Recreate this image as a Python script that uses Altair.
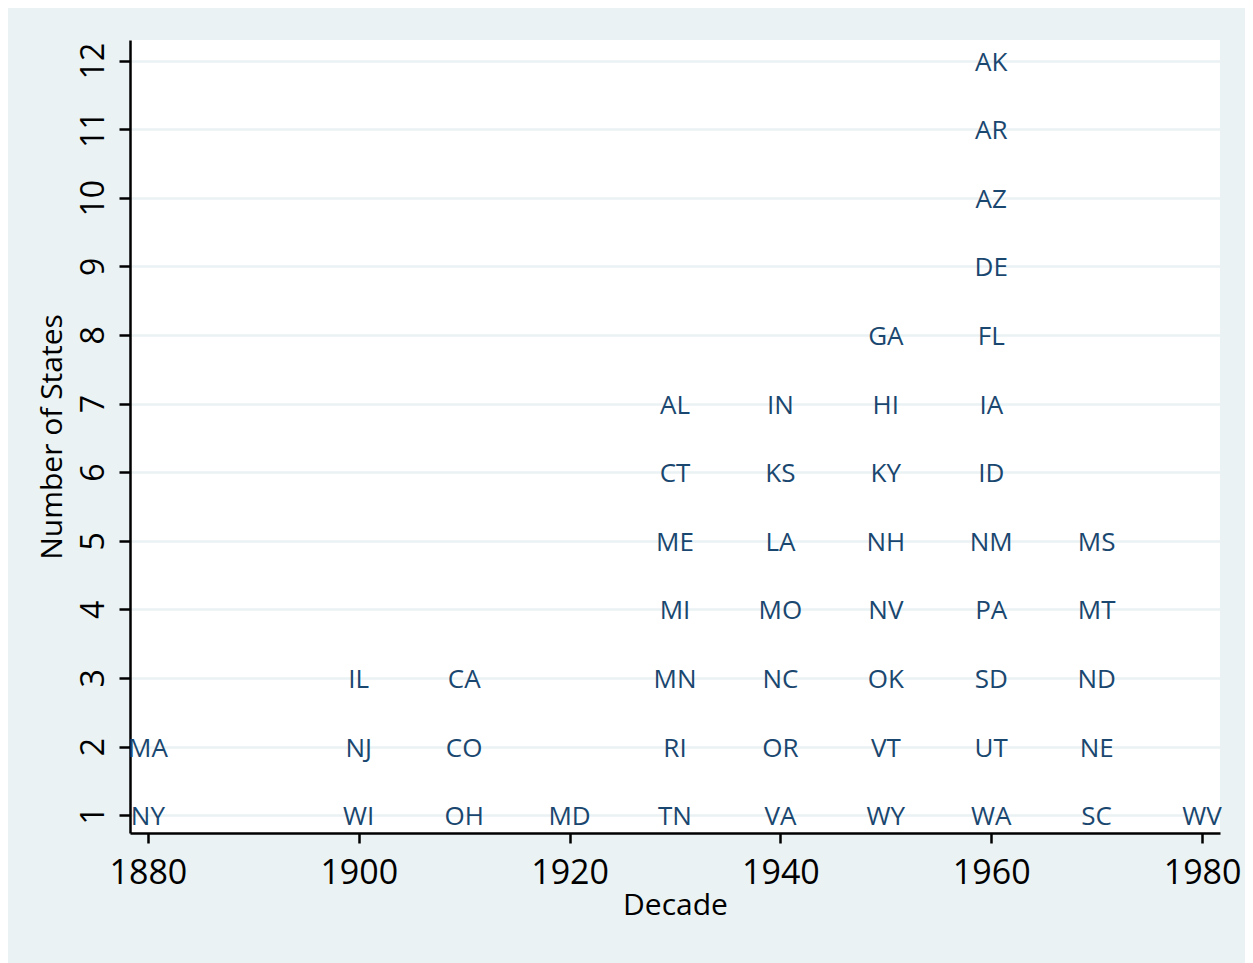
import altair as alt
import pandas as pd

decades = [1880, 1900, 1910, 1920, 1930, 1940, 1950, 1960, 1970, 1980]
states_by_decade = [
    ["NY", "MA"],
    ["WI", "NJ", "IL"],
    ["OH", "CO", "CA"],
    ["MD"],
    ["TN", "RI", "MN", "MI", "ME", "CT", "AL"],
    ["VA", "OR", "NC", "MO", "LA", "KS", "IN"],
    ["WY", "VT", "OK", "NV", "NH", "KY", "HI", "GA"],
    ["WA", "UT", "SD", "PA", "NM", "ID", "IA", "FL", "DE", "AZ", "AR", "AK"],
    ["SC", "NE", "ND", "MT", "MS"],
    ["WV"],
]

rows = []
for d, sts in zip(decades, states_by_decade):
    for i, s in enumerate(sts):
        rows.append({"decade": d, "count": i + 1, "state": s})
df = pd.DataFrame(rows)

FONT = "Open Sans"

chart = alt.Chart(df).mark_text(
    font=FONT, fontSize=26, color="#1A476F", baseline="middle", align="center", dy=2
).encode(
    x=alt.X("decade:Q", title="Decade",
            scale=alt.Scale(domain=[1878.3, 1981.7], nice=False, zero=False),
            axis=alt.Axis(values=[1880, 1900, 1920, 1940, 1960, 1980], format="d",
                          grid=False, domainColor="black", domainWidth=2.5,
                          tickColor="black", tickWidth=2.5, tickSize=10,
                          labelFont=FONT, labelFontSize=34, labelColor="black",
                          labelPadding=13, titleFont=FONT, titleFontSize=30,
                          titleFontWeight="normal", titleColor="black", titlePadding=0)),
    y=alt.Y("count:Q", title="Number of States",
            scale=alt.Scale(domain=[0.74, 12.3], nice=False, zero=False),
            axis=alt.Axis(values=list(range(1, 13)), format="d",
                          grid=True, gridColor="#EAF2F3", gridWidth=2.5,
                          domainColor="black", domainWidth=2.5,
                          tickColor="black", tickWidth=2.5, tickSize=11,
                          labelFont=FONT, labelFontSize=32, labelColor="black",
                          labelAngle=270, labelAlign="center", labelBaseline="middle",
                          labelPadding=26, titleFont=FONT, titleFontSize=30,
                          titleFontWeight="normal", titleColor="black", titlePadding=10)),
    text="state:N",
).properties(
    width=1090, height=793,
    background="#EAF2F3",
    padding={"left": 122, "top": 32, "right": 25, "bottom": 135},
    autosize=alt.AutoSizeParams(type="none"),
).configure_view(fill="white", stroke=None)

chart.save("out.html", embed_options={"renderer": "svg", "actions": False})
